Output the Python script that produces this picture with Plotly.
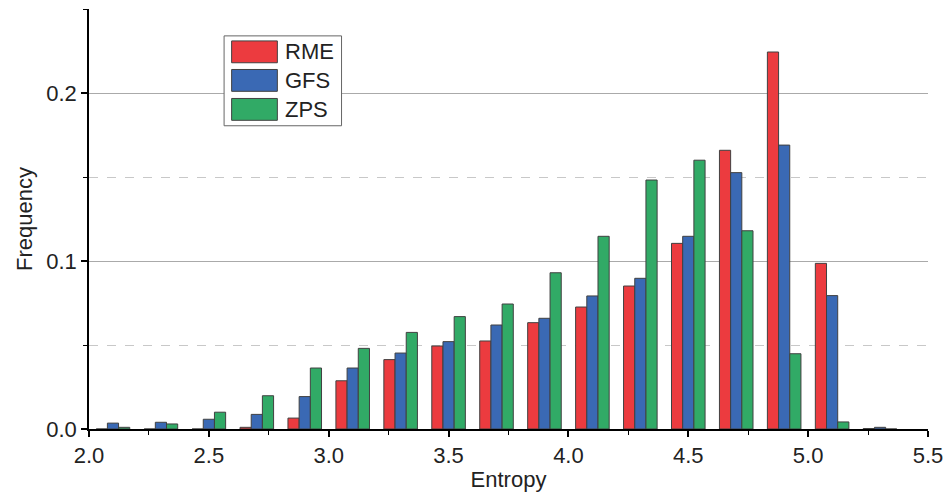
import plotly.graph_objects as go

# bin centres (entropy) and relative frequencies for each model
entropy_bins = [2.1, 2.3, 2.5, 2.7, 2.9, 3.1, 3.3, 3.5, 3.7, 3.9, 4.1, 4.3, 4.5, 4.7, 4.9, 5.1, 5.3]
rme = [0.0, 0.0, 0.0, 0.001, 0.0065, 0.0287, 0.0413, 0.0494, 0.0524, 0.0633, 0.0726, 0.0851, 0.1105, 0.1659, 0.2244, 0.0986, 0.0003]
gfs = [0.0035, 0.004, 0.0058, 0.0087, 0.0193, 0.0363, 0.0452, 0.052, 0.0619, 0.0659, 0.0792, 0.0897, 0.1147, 0.1526, 0.169, 0.0794, 0.001]
zps = [0.001, 0.003, 0.010, 0.0198, 0.0363, 0.048, 0.0575, 0.0669, 0.0744, 0.093, 0.1147, 0.1482, 0.160, 0.118, 0.0448, 0.0042, 0.0]

series_names = ["RME", "GFS", "ZPS"]
series_colors = ["#EC3B3F", "#3A69B4", "#31AA66"]
series_values = [rme, gfs, zps]

fig = go.Figure()
for name, vals, color in zip(series_names, series_values, series_colors):
    fig.add_trace(go.Bar(
        x=entropy_bins, y=vals, name=name,
        marker=dict(color=color, line=dict(color="#404040", width=1)),
    ))

font = "Liberation Sans, Arial, sans-serif"
fig.update_layout(
    width=945, height=495,
    margin=dict(l=89, r=17, t=9, b=66),
    paper_bgcolor="white", plot_bgcolor="white",
    barmode="group", bargap=0.3, bargroupgap=0,
    font=dict(family=font, size=22, color="#222222"),
    showlegend=False,
)

# legend box drawn by hand so the swatches can be big like the original
fig.add_shape(type="rect", xref="paper", yref="paper",
              x0=0.161, x1=0.301, y0=0.722, y1=0.936,
              line=dict(color="#666666", width=1), fillcolor="white", layer="above")
row_tops = [0.924, 0.856, 0.787]
for i, (name, color) in enumerate(zip(series_names, series_colors)):
    top = row_tops[i]
    fig.add_shape(type="rect", xref="paper", yref="paper",
                  x0=0.170, x1=0.2245, y0=top - 0.052, y1=top,
                  line=dict(color="#404040", width=1), fillcolor=color, layer="above")
    fig.add_annotation(xref="paper", yref="paper", x=0.2315, y=top - 0.026,
                       text=name, showarrow=False, xanchor="left", yanchor="middle",
                       font=dict(size=22, color="#222222"))

fig.update_xaxes(
    range=[2.0, 5.5], dtick=0.5, tick0=2.0, tickformat=".1f",
    automargin=False, ticklabeloverflow="allow",
    title=dict(text="Entropy", font=dict(size=22), standoff=4),
    showline=True, linecolor="black", linewidth=1.5,
    ticks="outside", ticklen=6, tickwidth=1.5, tickcolor="black",
    showgrid=False, zeroline=False,
    minor=dict(dtick=0.25, ticks="outside", ticklen=4, tickwidth=1.2, tickcolor="black"),
)
fig.update_yaxes(
    range=[0, 0.25], dtick=0.1, tick0=0, tickformat=".1f",
    automargin=False,
    title=dict(text="Frequency", font=dict(size=22), standoff=8),
    showline=True, linecolor="black", linewidth=1.5,
    ticks="outside", ticklen=6, tickwidth=1.5, tickcolor="black",
    showgrid=True, gridcolor="#AAAAAA", gridwidth=1, zeroline=False,
    minor=dict(dtick=0.05, ticks="outside", ticklen=4, tickwidth=1.2, tickcolor="black",
               showgrid=True, gridcolor="#C8C8C8", griddash="dash", gridwidth=1),
)

fig.write_html("out.html", config={"displayModeBar": False},
               post_script="document.body.style.margin='0px';")
